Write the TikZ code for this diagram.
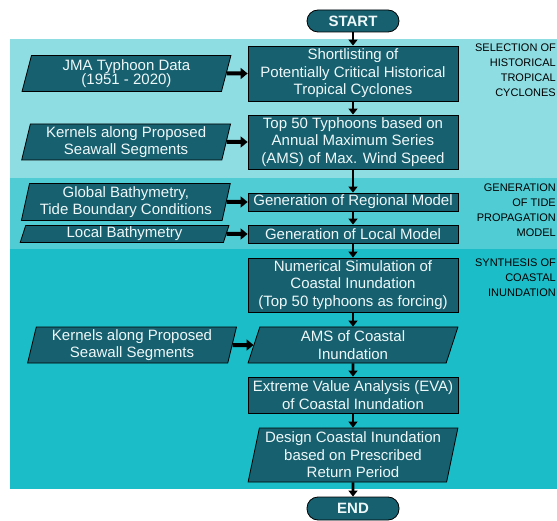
\documentclass[tikz,border=0pt]{standalone}
\usepackage{fontspec}
\setsansfont{Liberation Sans}
\usetikzlibrary{positioning,shapes.geometric,arrows.meta}
\definecolor{bandA}{HTML}{8EDDE2}
\definecolor{bandB}{HTML}{4FCCD4}
\definecolor{bandC}{HTML}{1BBDC8}
\definecolor{boxfill}{HTML}{17606F}
\definecolor{boxtext}{HTML}{EEF8F9}

\begin{document}
\begin{tikzpicture}[
    x=1pt, y=-1pt,
    node distance=14pt,
    terminal/.style={rectangle, rounded corners=11pt, draw=black, line width=0.8pt, fill=boxfill, text=boxtext, minimum width=92pt, minimum height=22pt, inner sep=0pt, font=\sffamily\bfseries\fontsize{15}{18}\selectfont},
    process_block/.style={rectangle, draw=black, line width=0.8pt, fill=boxfill, text=boxtext, minimum width=210pt, inner sep=0pt, align=center, font=\sffamily\fontsize{15}{17.5}\selectfont},
    data_block/.style={trapezium, trapezium left angle=77, trapezium right angle=103, trapezium stretches=true, draw=black, line width=0.8pt, fill=boxfill, text=boxtext, inner sep=0pt, align=center, font=\sffamily\fontsize{15}{17.5}\selectfont},
    flow/.style={-{Triangle[length=6pt,width=9pt]}, line width=2.6pt},
    feed/.style={-{Triangle[length=7pt,width=11pt]}, line width=4pt},
    stage/.style={anchor=north east, align=right, inner sep=0pt, font=\sffamily\fontsize{11}{15}\selectfont}
]
\useasboundingbox (0,0) rectangle (557,521);

% Background bands
\fill[bandA] (10,39) rectangle (560,178);
\fill[bandB] (10,178) rectangle (560,249);
\fill[bandC] (10,249) rectangle (560,489);

% Main flow
\node[terminal] (start) at (353,21) {START};
\node[process_block, minimum height=55pt] (shortlist) at (353,73.5) {Shortlisting of\\Potentially Critical Historical\\Tropical Cyclones};
\node[process_block, minimum height=54pt] (top_fifty) at (353,142) {Top 50 Typhoons based on\\Annual Maximum Series\\(AMS) of Max. Wind Speed};
\node[process_block, minimum height=18pt] (regional) at (353,202) {Generation of Regional Model};
\node[process_block, minimum height=18pt] (local) at (353,234) {Generation of Local Model};
\node[process_block, minimum height=54pt] (simulation) at (353,285) {Numerical Simulation of\\Coastal Inundation\\(Top 50 typhoons as forcing)};
\node[data_block, minimum width=210pt, minimum height=36pt] (ams) at (353,345) {AMS of Coastal\\Inundation};
\node[process_block, minimum height=36pt] (eva) at (353,395) {Extreme Value Analysis (EVA)\\of Coastal Inundation};
\node[data_block, minimum width=210pt, minimum height=54pt] (design) at (353,455) {Design Coastal Inundation\\based on Prescribed\\Return Period};
\node[terminal, minimum height=23pt] (finish) at (353,508.5) {END};

% Inputs
\node[data_block, minimum width=209pt, minimum height=36pt, left=21pt of shortlist] (jma) {JMA Typhoon Data\\[-4pt](1951 - 2020)};
\node[data_block, minimum width=209pt, minimum height=36pt, left=21pt of top_fifty] (kernels_a) {Kernels along Proposed\\Seawall Segments};
\node[data_block, minimum width=209pt, minimum height=37pt, left=21pt of regional] (global_bathy) {Global Bathymetry,\\Tide Boundary Conditions};
\node[data_block, minimum width=209pt, minimum height=17pt, left=21pt of local] (local_bathy) {Local Bathymetry};
\node[data_block, minimum width=209pt, minimum height=36pt, left=21pt of ams] (kernels_b) {Kernels along Proposed\\Seawall Segments};

% Stage labels
\node[stage] (stage_one) at (556,44) {SELECTION OF\\HISTORICAL\\TROPICAL\\CYCLONES};
\node[stage] (stage_two) at (556,184) {GENERATION\\OF TIDE\\PROPAGATION\\MODEL};
\node[stage] (stage_three) at (556,259) {SYNTHESIS OF\\COASTAL\\INUNDATION};

% Arrows
\draw[flow] (start) -- (shortlist);
\draw[flow] (shortlist) -- (top_fifty);
\draw[flow] (top_fifty) -- (regional);
\draw[flow] (regional) -- (local);
\draw[flow] (local) -- (simulation);
\draw[flow] (simulation) -- (ams);
\draw[flow] (ams) -- (eva);
\draw[flow] (eva) -- (design);
\draw[flow] (design) -- (finish);

\draw[feed] (jma) -- (shortlist);
\draw[feed] (kernels_a) -- (top_fifty);
\draw[feed] (global_bathy) -- (regional);
\draw[feed] (local_bathy) -- (local);
\draw[feed] (kernels_b) -- (ams);

\end{tikzpicture}
\end{document}
